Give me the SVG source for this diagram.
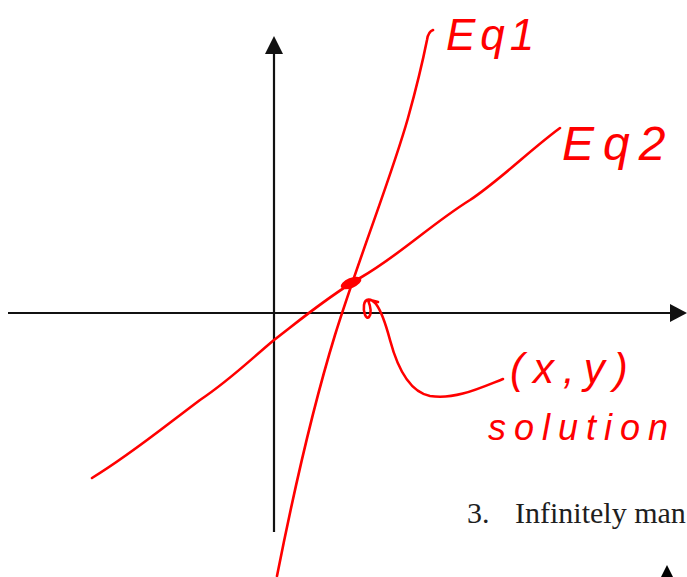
<svg xmlns="http://www.w3.org/2000/svg" width="687" height="577" viewBox="0 0 687 577">
<style>
.axis{stroke:#111;stroke-width:2.2;fill:none}
.ink{stroke:#ff0000;stroke-width:2.6;fill:none;stroke-linecap:round;stroke-linejoin:round}
.hand{fill:#ff0000;font-family:"Liberation Sans",sans-serif;font-style:italic}
.doc{fill:#1e1e1e;font-family:"Liberation Serif",serif}
</style>
<rect width="687" height="577" fill="#fff"/>
<g id="axes">
<line class="axis" x1="274" y1="532" x2="274" y2="50"/>
<path d="M274,36 L283,54 L265,54 z" fill="#111"/>
<line class="axis" x1="8" y1="313" x2="672" y2="313"/>
<path d="M687,313 L670,304 L670,322 z" fill="#111"/>
</g>
<g id="connectors">
<path id="eq1-line" class="ink" d="M277,576 C293,495 312,410 335,335 C360,255 392,175 408,118 C418,82 424,55 427,40 C428,33 430,31 433,30"/>
<path id="eq2-line" class="ink" d="M92,478 C130,455 160,430 200,400 C230,380 250,360 274,340 C300,320 330,295 360,278 C400,255 430,225 470,200 C500,180 530,150 560,128"/>
<path id="solution-arrow" class="ink" d="M503,379 C480,388 455,400 430,396 C410,392 398,370 390,340 C386,325 382,312 376,304 C371,298 365,298 364,305 C363,312 366,320 369,317 C372,313 370,305 368,300 C371,300 375,301 378,302"/>
</g>
<g id="intersection">
<ellipse cx="351" cy="283" rx="11" ry="5" transform="rotate(-22 351 283)" fill="#ff0000"/>
</g>
<g id="label-eq1">
<text class="hand" x="446" y="50" font-size="44" letter-spacing="5">Eq1</text>
</g>
<g id="label-eq2">
<text class="hand" x="562" y="160" font-size="48" letter-spacing="9">Eq2</text>
</g>
<g id="label-solution">
<text class="hand" x="510" y="383" font-size="42" letter-spacing="9">(x,y)</text>
<text class="hand" x="488" y="440" font-size="36" letter-spacing="8">solution</text>
</g>
<g id="doc-text">
<text class="doc" x="467" y="523" font-size="30">3.</text>
<text class="doc" x="515" y="523" font-size="30">Infinitely man</text>
<path d="M667,565 L673,577 L661,577 z" fill="#000"/>
</g>
</svg>
